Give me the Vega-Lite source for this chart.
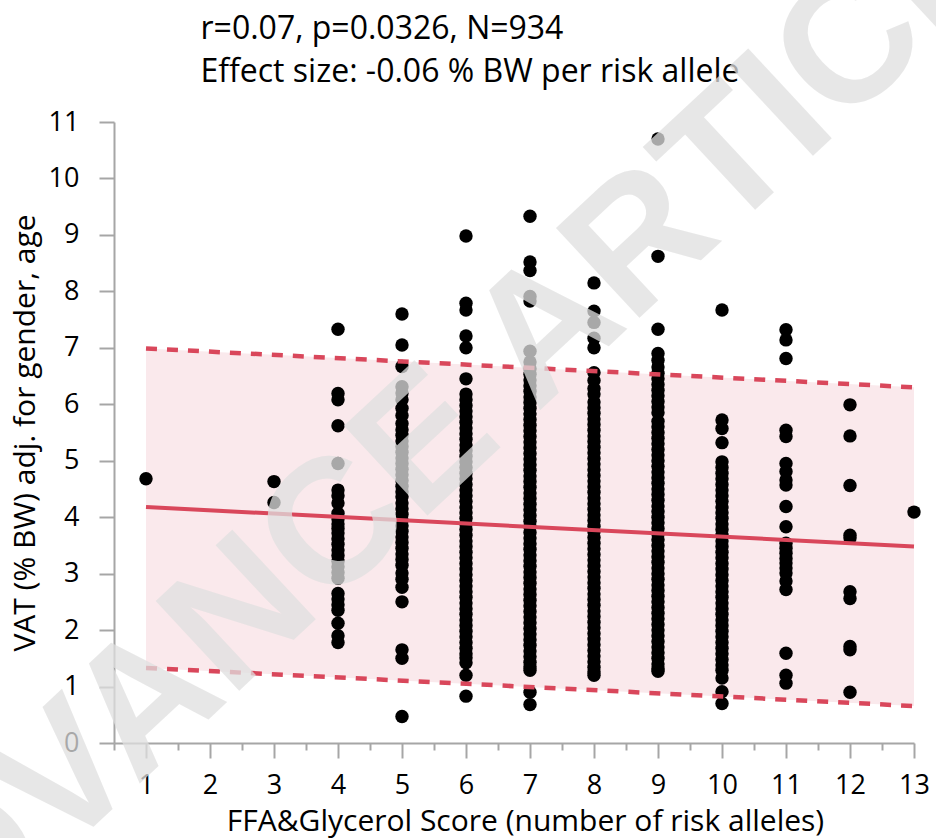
{
  "$schema": "https://vega.github.io/schema/vega-lite/v6.json",
  "width": 800,
  "height": 621,
  "autosize": {"type": "none"},
  "padding": {"left": 114, "top": 122, "right": 22, "bottom": 95},
  "background": "white",
  "config": {"view": {"stroke": null}, "font": "Open Sans"},
  "resolve": {"axis": {"x": "independent"}},
  "datasets": {
    "fit": [
      {"x": 1, "lo": 1.33, "hi": 6.99, "fit": 4.18},
      {"x": 13, "lo": 0.655, "hi": 6.30, "fit": 3.48}
    ],
    "pts": [
      {"x":1,"y":4.68},
      {"x":3,"y":4.63},{"x":3,"y":4.26},
      {"x":4,"y":7.33},{"x":4,"y":6.19},{"x":4,"y":6.08},{"x":4,"y":5.62},{"x":4,"y":4.95},{"x":4,"y":4.48},{"x":4,"y":4.38},{"x":4,"y":4.25},{"x":4,"y":4.07},{"x":4,"y":3.97},{"x":4,"y":3.88},{"x":4,"y":3.80},{"x":4,"y":3.72},{"x":4,"y":3.62},{"x":4,"y":3.52},{"x":4,"y":3.42},{"x":4,"y":3.32},{"x":4,"y":3.22},{"x":4,"y":3.12},{"x":4,"y":3.02},{"x":4,"y":2.92},{"x":4,"y":2.65},{"x":4,"y":2.55},{"x":4,"y":2.45},{"x":4,"y":2.35},{"x":4,"y":2.12},{"x":4,"y":1.90},{"x":4,"y":1.78},
      {"x":5,"y":7.60},{"x":5,"y":7.05},{"x":5,"y":6.67},{"x":5,"y":6.31},{"x":5,"y":6.20},{"x":5,"y":6.08},{"x":5,"y":5.93},{"x":5,"y":5.80},{"x":5,"y":5.66},{"x":5,"y":5.55},{"x":5,"y":5.45},{"x":5,"y":5.35},{"x":5,"y":5.25},{"x":5,"y":5.15},{"x":5,"y":5.05},{"x":5,"y":4.95},{"x":5,"y":4.85},{"x":5,"y":4.75},{"x":5,"y":4.65},{"x":5,"y":4.55},{"x":5,"y":4.45},{"x":5,"y":4.36},{"x":5,"y":4.25},{"x":5,"y":4.15},{"x":5,"y":4.05},{"x":5,"y":3.95},{"x":5,"y":3.85},{"x":5,"y":3.75},{"x":5,"y":3.65},{"x":5,"y":3.55},{"x":5,"y":3.45},{"x":5,"y":3.35},{"x":5,"y":3.25},{"x":5,"y":3.15},{"x":5,"y":3.01},{"x":5,"y":2.90},{"x":5,"y":2.76},{"x":5,"y":2.50},{"x":5,"y":1.65},{"x":5,"y":1.50},{"x":5,"y":0.47},
      {"x":6,"y":8.98},{"x":6,"y":7.79},{"x":6,"y":7.67},{"x":6,"y":7.21},{"x":6,"y":7.0},{"x":6,"y":6.45},{"x":6,"y":6.18},{"x":6,"y":6.08},{"x":6,"y":5.98},{"x":6,"y":5.88},{"x":6,"y":5.78},{"x":6,"y":5.68},{"x":6,"y":5.58},{"x":6,"y":5.48},{"x":6,"y":5.38},{"x":6,"y":5.28},{"x":6,"y":5.18},{"x":6,"y":5.08},{"x":6,"y":4.98},{"x":6,"y":4.88},{"x":6,"y":4.78},{"x":6,"y":4.68},{"x":6,"y":4.58},{"x":6,"y":4.48},{"x":6,"y":4.38},{"x":6,"y":4.28},{"x":6,"y":4.18},{"x":6,"y":4.08},{"x":6,"y":3.98},{"x":6,"y":3.88},{"x":6,"y":3.78},{"x":6,"y":3.68},{"x":6,"y":3.58},{"x":6,"y":3.48},{"x":6,"y":3.38},{"x":6,"y":3.28},{"x":6,"y":3.18},{"x":6,"y":3.08},{"x":6,"y":2.98},{"x":6,"y":2.88},{"x":6,"y":2.78},{"x":6,"y":2.68},{"x":6,"y":2.58},{"x":6,"y":2.48},{"x":6,"y":2.38},{"x":6,"y":2.28},{"x":6,"y":2.18},{"x":6,"y":2.08},{"x":6,"y":1.98},{"x":6,"y":1.88},{"x":6,"y":1.78},{"x":6,"y":1.68},{"x":6,"y":1.58},{"x":6,"y":1.51},{"x":6,"y":1.42},{"x":6,"y":1.20},{"x":6,"y":0.83},
      {"x":7,"y":9.33},{"x":7,"y":8.52},{"x":7,"y":8.37},{"x":7,"y":7.91},{"x":7,"y":7.83},{"x":7,"y":6.94},{"x":7,"y":6.75},{"x":7,"y":6.63},{"x":7,"y":6.53},{"x":7,"y":6.43},{"x":7,"y":6.33},{"x":7,"y":6.23},{"x":7,"y":6.13},{"x":7,"y":6.03},{"x":7,"y":5.93},{"x":7,"y":5.83},{"x":7,"y":5.73},{"x":7,"y":5.63},{"x":7,"y":5.53},{"x":7,"y":5.43},{"x":7,"y":5.33},{"x":7,"y":5.23},{"x":7,"y":5.13},{"x":7,"y":5.03},{"x":7,"y":4.93},{"x":7,"y":4.83},{"x":7,"y":4.73},{"x":7,"y":4.63},{"x":7,"y":4.53},{"x":7,"y":4.43},{"x":7,"y":4.33},{"x":7,"y":4.23},{"x":7,"y":4.13},{"x":7,"y":4.03},{"x":7,"y":3.93},{"x":7,"y":3.83},{"x":7,"y":3.73},{"x":7,"y":3.63},{"x":7,"y":3.53},{"x":7,"y":3.43},{"x":7,"y":3.33},{"x":7,"y":3.23},{"x":7,"y":3.13},{"x":7,"y":3.03},{"x":7,"y":2.93},{"x":7,"y":2.83},{"x":7,"y":2.73},{"x":7,"y":2.63},{"x":7,"y":2.53},{"x":7,"y":2.43},{"x":7,"y":2.33},{"x":7,"y":2.23},{"x":7,"y":2.13},{"x":7,"y":2.03},{"x":7,"y":1.93},{"x":7,"y":1.83},{"x":7,"y":1.73},{"x":7,"y":1.63},{"x":7,"y":1.53},{"x":7,"y":1.43},{"x":7,"y":1.35},{"x":7,"y":1.29},{"x":7,"y":0.90},{"x":7,"y":0.68},
      {"x":8,"y":8.15},{"x":8,"y":7.65},{"x":8,"y":7.45},{"x":8,"y":7.17},{"x":8,"y":7.0},{"x":8,"y":6.56},{"x":8,"y":6.42},{"x":8,"y":6.28},{"x":8,"y":6.18},{"x":8,"y":6.04},{"x":8,"y":5.94},{"x":8,"y":5.84},{"x":8,"y":5.74},{"x":8,"y":5.64},{"x":8,"y":5.54},{"x":8,"y":5.44},{"x":8,"y":5.34},{"x":8,"y":5.24},{"x":8,"y":5.14},{"x":8,"y":5.04},{"x":8,"y":4.94},{"x":8,"y":4.84},{"x":8,"y":4.74},{"x":8,"y":4.64},{"x":8,"y":4.54},{"x":8,"y":4.44},{"x":8,"y":4.34},{"x":8,"y":4.24},{"x":8,"y":4.14},{"x":8,"y":4.04},{"x":8,"y":3.94},{"x":8,"y":3.84},{"x":8,"y":3.74},{"x":8,"y":3.64},{"x":8,"y":3.54},{"x":8,"y":3.44},{"x":8,"y":3.34},{"x":8,"y":3.24},{"x":8,"y":3.14},{"x":8,"y":3.04},{"x":8,"y":2.94},{"x":8,"y":2.84},{"x":8,"y":2.74},{"x":8,"y":2.64},{"x":8,"y":2.54},{"x":8,"y":2.44},{"x":8,"y":2.34},{"x":8,"y":2.24},{"x":8,"y":2.14},{"x":8,"y":2.04},{"x":8,"y":1.94},{"x":8,"y":1.84},{"x":8,"y":1.74},{"x":8,"y":1.64},{"x":8,"y":1.54},{"x":8,"y":1.44},{"x":8,"y":1.34},{"x":8,"y":1.26},{"x":8,"y":1.20},
      {"x":9,"y":10.7},{"x":9,"y":8.62},{"x":9,"y":7.33},{"x":9,"y":6.90},{"x":9,"y":6.78},{"x":9,"y":6.66},{"x":9,"y":6.55},{"x":9,"y":6.45},{"x":9,"y":6.35},{"x":9,"y":6.25},{"x":9,"y":6.15},{"x":9,"y":6.05},{"x":9,"y":5.95},{"x":9,"y":5.85},{"x":9,"y":5.70},{"x":9,"y":5.60},{"x":9,"y":5.50},{"x":9,"y":5.40},{"x":9,"y":5.30},{"x":9,"y":5.20},{"x":9,"y":5.10},{"x":9,"y":5.00},{"x":9,"y":4.90},{"x":9,"y":4.80},{"x":9,"y":4.70},{"x":9,"y":4.60},{"x":9,"y":4.50},{"x":9,"y":4.40},{"x":9,"y":4.30},{"x":9,"y":4.20},{"x":9,"y":4.10},{"x":9,"y":4.00},{"x":9,"y":3.90},{"x":9,"y":3.80},{"x":9,"y":3.70},{"x":9,"y":3.60},{"x":9,"y":3.50},{"x":9,"y":3.40},{"x":9,"y":3.30},{"x":9,"y":3.20},{"x":9,"y":3.10},{"x":9,"y":3.00},{"x":9,"y":2.90},{"x":9,"y":2.80},{"x":9,"y":2.70},{"x":9,"y":2.60},{"x":9,"y":2.50},{"x":9,"y":2.40},{"x":9,"y":2.30},{"x":9,"y":2.20},{"x":9,"y":2.10},{"x":9,"y":2.00},{"x":9,"y":1.90},{"x":9,"y":1.80},{"x":9,"y":1.70},{"x":9,"y":1.60},{"x":9,"y":1.50},{"x":9,"y":1.40},{"x":9,"y":1.32},{"x":9,"y":1.27},
      {"x":10,"y":7.67},{"x":10,"y":5.72},{"x":10,"y":5.57},{"x":10,"y":5.32},{"x":10,"y":4.98},{"x":10,"y":4.88},{"x":10,"y":4.78},{"x":10,"y":4.68},{"x":10,"y":4.58},{"x":10,"y":4.48},{"x":10,"y":4.38},{"x":10,"y":4.28},{"x":10,"y":4.18},{"x":10,"y":4.08},{"x":10,"y":3.98},{"x":10,"y":3.88},{"x":10,"y":3.78},{"x":10,"y":3.68},{"x":10,"y":3.58},{"x":10,"y":3.48},{"x":10,"y":3.38},{"x":10,"y":3.28},{"x":10,"y":3.18},{"x":10,"y":3.08},{"x":10,"y":2.98},{"x":10,"y":2.88},{"x":10,"y":2.78},{"x":10,"y":2.68},{"x":10,"y":2.58},{"x":10,"y":2.48},{"x":10,"y":2.38},{"x":10,"y":2.28},{"x":10,"y":2.18},{"x":10,"y":2.08},{"x":10,"y":1.98},{"x":10,"y":1.88},{"x":10,"y":1.78},{"x":10,"y":1.68},{"x":10,"y":1.58},{"x":10,"y":1.48},{"x":10,"y":1.38},{"x":10,"y":1.29},{"x":10,"y":1.15},{"x":10,"y":0.91},{"x":10,"y":0.70},
      {"x":11,"y":7.32},{"x":11,"y":7.14},{"x":11,"y":6.81},{"x":11,"y":5.54},{"x":11,"y":5.43},{"x":11,"y":4.95},{"x":11,"y":4.81},{"x":11,"y":4.66},{"x":11,"y":4.57},{"x":11,"y":4.19},{"x":11,"y":3.83},{"x":11,"y":3.54},{"x":11,"y":3.45},{"x":11,"y":3.36},{"x":11,"y":3.27},{"x":11,"y":3.19},{"x":11,"y":3.10},{"x":11,"y":3.01},{"x":11,"y":2.87},{"x":11,"y":2.72},{"x":11,"y":1.59},{"x":11,"y":1.20},{"x":11,"y":1.06},
      {"x":12,"y":5.99},{"x":12,"y":5.44},{"x":12,"y":4.56},{"x":12,"y":3.68},{"x":12,"y":3.63},{"x":12,"y":2.68},{"x":12,"y":2.56},{"x":12,"y":1.71},{"x":12,"y":1.65},{"x":12,"y":0.90},
      {"x":13,"y":4.09}
    ]
  },
  "layer": [
    {
      "data": {"name": "fit"},
      "mark": {"type": "area", "color": "#fae9ec", "opacity": 1},
      "encoding": {
        "x": {
          "field": "x", "type": "quantitative",
          "axis": {
            "orient": "top", "domain": false, "ticks": false, "labels": false, "grid": false,
            "title": ["r=0.07, p=0.0326, N=934", "Effect size: -0.06 % BW per risk allele"],
            "titleFont": "Open Sans", "titleFontSize": 32, "titleFontWeight": "normal", "titleColor": "#000000",
            "titleAnchor": "start", "titleAlign": "left", "titleBaseline": "alphabetic",
            "titleLineHeight": 43, "titleX": 86, "titleY": -84
          }
        },
        "y": {"field": "lo", "type": "quantitative"},
        "y2": {"field": "hi"}
      }
    },
    {
      "mark": {"type": "rule", "color": "#a6a6a6", "strokeWidth": 2},
      "encoding": {
        "x": {"datum": 0.5, "type": "quantitative", "axis": null},
        "x2": {"datum": 13.34},
        "y": {"datum": 11, "type": "quantitative"}
      }
    },
    {
      "data": {"name": "pts"},
      "mark": {"type": "circle", "color": "#000000", "opacity": 1, "size": 180},
      "encoding": {
        "x": {
          "field": "x", "type": "quantitative",
          "scale": {"domain": [0.5, 13], "nice": false, "zero": false},
          "axis": {
            "orient": "bottom",
            "values": [0.5,1,1.5,2,2.5,3,3.5,4,4.5,5,5.5,6,6.5,7,7.5,8,8.5,9,9.5,10,10.5,11,11.5,12,12.5,13],
            "labelExpr": "datum.value % 1 === 0 ? '' + datum.value : ''",
            "tickSize": {"condition": {"test": "datum.value % 1 === 0", "value": 15}, "value": 7},
            "labelOverlap": false, "labelFlush": false, "grid": false,
            "domainColor": "#a6a6a6", "domainWidth": 2, "tickColor": "#a6a6a6", "tickWidth": 2,
            "labelFontSize": 27, "labelFont": "Open Sans", "labelColor": "#000000", "labelPadding": 14,
            "title": "FFA&Glycerol Score (number of risk alleles)",
            "titleFontSize": 30, "titleFont": "Open Sans", "titleFontWeight": "normal", "titleColor": "#000000",
            "titleX": 411, "titleY": 87, "titleAlign": "center", "titleBaseline": "alphabetic"
          }
        },
        "y": {
          "field": "y", "type": "quantitative",
          "scale": {"domain": [0, 11], "nice": false, "zero": false},
          "axis": {
            "values": [0,0.5,1,1.5,2,2.5,3,3.5,4,4.5,5,5.5,6,6.5,7,7.5,8,8.5,9,9.5,10,10.5,11],
            "labelExpr": "datum.value % 1 === 0 ? '' + datum.value : ''",
            "tickSize": {"condition": {"test": "datum.value % 1 === 0", "value": 15}, "value": 7},
            "labelOverlap": false, "labelFlush": false, "grid": false,
            "domainColor": "#a6a6a6", "domainWidth": 2, "tickColor": "#a6a6a6", "tickWidth": 2,
            "labelFontSize": 27, "labelFont": "Open Sans", "labelColor": "#000000", "labelPadding": 20,
            "title": "VAT (% BW) adj. for gender, age",
            "titleFontSize": 30, "titleFont": "Open Sans", "titleFontWeight": "normal", "titleColor": "#000000", "titlePadding": 8
          }
        }
      }
    },
    {
      "data": {"name": "fit"},
      "mark": {"type": "line", "color": "#d9475b", "strokeWidth": 4.5, "strokeDash": [11, 10], "strokeCap": "butt"},
      "encoding": {
        "x": {"field": "x", "type": "quantitative", "axis": null},
        "y": {"field": "hi", "type": "quantitative"}
      }
    },
    {
      "data": {"name": "fit"},
      "mark": {"type": "line", "color": "#d9475b", "strokeWidth": 4.5, "strokeDash": [11, 10], "strokeCap": "butt"},
      "encoding": {
        "x": {"field": "x", "type": "quantitative", "axis": null},
        "y": {"field": "lo", "type": "quantitative"}
      }
    },
    {
      "data": {"name": "fit"},
      "mark": {"type": "line", "color": "#d9475b", "strokeWidth": 4},
      "encoding": {
        "x": {"field": "x", "type": "quantitative", "axis": null},
        "y": {"field": "fit", "type": "quantitative"}
      }
    },
    {
      "data": {"values": [{"label": "ADVANCE ARTICLE"}]},
      "mark": {"type": "text", "angle": -43, "fontSize": 178, "font": "Liberation Sans", "fontWeight": "bold", "fill": "#e0e0e0", "opacity": 0.75, "align": "center", "baseline": "middle"},
      "encoding": {
        "text": {"field": "label"},
        "x": {"datum": 5.75, "type": "quantitative", "axis": null},
        "y": {"datum": 5.69, "type": "quantitative"}
      }
    }
  ]
}
